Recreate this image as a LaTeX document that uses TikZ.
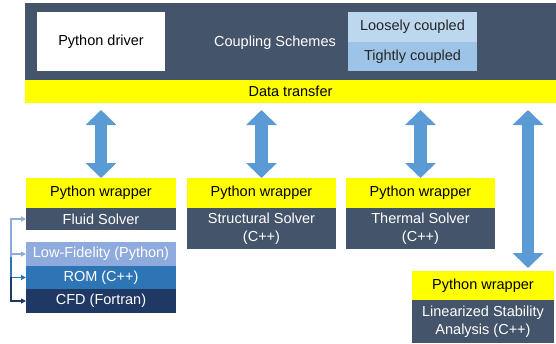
\documentclass[tikz,border=0pt]{standalone}
\usepackage{fontspec}
\setmainfont{Liberation Sans}
\usetikzlibrary{arrows.meta,positioning}

\definecolor{slate}{HTML}{44546A}
\definecolor{wrapyellow}{HTML}{FFFF00}
\definecolor{looseblue}{HTML}{BDD7EE}
\definecolor{tightblue}{HTML}{9DC3E6}
\definecolor{lofiblue}{HTML}{8FAADC}
\definecolor{romblue}{HTML}{2E75B6}
\definecolor{cfdblue}{HTML}{203864}
\definecolor{xferblue}{HTML}{5B9BD5}

\tikzset{
  box/.style={rectangle, inner sep=0pt, outer sep=0pt, align=center,
    font=\fontsize{14.5}{17.5}\selectfont},
  wrapbox/.style={box, fill=wrapyellow, text=black, minimum height=30pt},
  solverbox/.style={box, fill=slate, text=white},
  xfer/.style={xferblue, line width=12.5pt,
    {Triangle[width=30pt,length=15pt]}-{Triangle[width=30pt,length=15pt]}},
  brk/.style={line width=1.3pt, -{Triangle[width=5pt,length=5pt]}}
}

\begin{document}
\begin{tikzpicture}[x=1pt,y=-1pt]
\useasboundingbox (0,0) rectangle (556,343);

% top bar and data transfer
\node[box, fill=slate, minimum width=531pt, minimum height=77pt] (top) at (290.5,41.5) {};
\node[box, fill=wrapyellow, minimum width=531pt, minimum height=23pt] (data) at (290.5,91.5) {Data transfer};
\node[box, fill=white, minimum width=128pt, minimum height=59pt] (driver) at (101,41.5) {Python driver};
\node[box, text=white] (schemes) at (275,43) {Coupling Schemes};
\node[box, fill=looseblue, text=black!85, minimum width=129pt, minimum height=30pt] (loose) at (412.5,27) {Loosely coupled};
\node[box, fill=tightblue, text=black!85, minimum width=129pt, minimum height=29pt, below=0pt of loose] (tight) {Tightly coupled};

% fluid
\node[wrapbox, minimum width=150pt] (wrapF) at (101,193) {Python wrapper};
\node[solverbox, minimum width=150pt, minimum height=22pt, below=0pt of wrapF] (fluid) {Fluid Solver};
\node[box, fill=lofiblue, text=white, minimum width=150pt, minimum height=24pt] (lofi) at (101,254) {Low-Fidelity (Python)};
\node[box, fill=romblue, text=white, minimum width=150pt, minimum height=23pt, below=0pt of lofi] (rom) {ROM (C++)};
\node[box, fill=cfdblue, text=white, minimum width=150pt, minimum height=24pt, below=0pt of rom] (cfd) {CFD (Fortran)};

% structural, thermal
\node[wrapbox, minimum width=149pt] (wrapS) at (261.5,193) {Python wrapper};
\node[solverbox, minimum width=149pt, minimum height=41pt, below=0pt of wrapS] (struct) {Structural Solver\\(C++)};
\node[wrapbox, minimum width=149pt] (wrapT) at (420.5,193) {Python wrapper};
\node[solverbox, minimum width=149pt, minimum height=41pt, below=0pt of wrapT] (therm) {Thermal Solver\\(C++)};

% stability
\node[wrapbox, minimum width=142pt, minimum height=29pt] (wrapL) at (483,285.5) {Python wrapper};
\node[solverbox, minimum width=142pt, minimum height=43pt, below=0pt of wrapL] (lsa) {Linearized Stability\\Analysis (C++)};

% data transfer arrows
\draw[xfer, shorten <=7pt, shorten >=0pt] (data.south -| wrapF.north) -- (wrapF.north);
\draw[xfer, shorten <=7pt, shorten >=0pt] (data.south -| wrapS.north) -- (wrapS.north);
\draw[xfer, shorten <=7pt, shorten >=0pt] (data.south -| wrapT.north) -- (wrapT.north);
\coordinate (lsaIn) at (528,270);
\draw[xfer, shorten <=7pt, shorten >=2pt] (lsaIn |- data.south) -- (lsaIn);

% fidelity bracket
\coordinate (bLo) at (11,257);
\coordinate (bRom) at (11,257);
\coordinate (bCfd) at (11,277);
\draw[brk, lofiblue, {Triangle[width=5pt,length=5pt]}-{Triangle[width=5pt,length=5pt]}] (fluid.west) -| (bLo) |- (lofi.west);
\draw[brk, romblue] (bRom) |- (rom.west);
\draw[brk, cfdblue] (bCfd) |- (cfd.west);
\end{tikzpicture}
\end{document}
